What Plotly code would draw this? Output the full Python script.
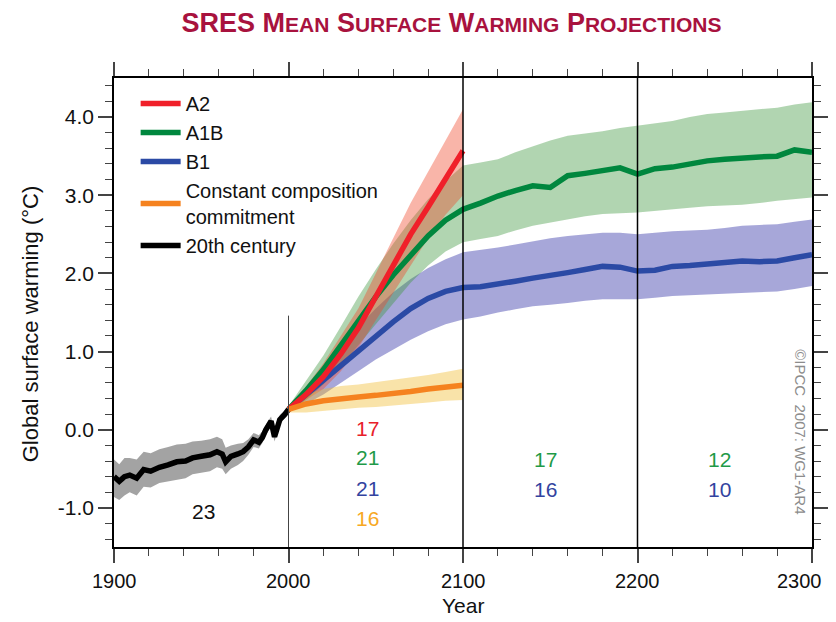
import plotly.graph_objects as go

# ---------------- data ----------------
years_20c = [1900, 1903, 1906, 1909, 1913, 1917, 1921, 1926, 1931, 1936, 1941, 1945, 1950, 1955, 1959,
             1962, 1964, 1967, 1971, 1974, 1977, 1980, 1983, 1985, 1987, 1990, 1992, 1995, 1998, 2000]
temp_20c = [-0.60, -0.66, -0.60, -0.58, -0.62, -0.51, -0.53, -0.48, -0.45, -0.41, -0.40, -0.36, -0.34, -0.32, -0.28,
            -0.31, -0.41, -0.34, -0.31, -0.28, -0.22, -0.13, -0.16, -0.10, 0.00, 0.11, -0.09, 0.13, 0.20, 0.26]
upper_20c = [-0.38, -0.44, -0.36, -0.36, -0.38, -0.28, -0.30, -0.25, -0.22, -0.19, -0.18, -0.15, -0.14, -0.12, -0.09,
             -0.12, -0.23, -0.20, -0.18, -0.17, -0.12, -0.04, -0.07, -0.02, 0.06, 0.17, -0.02, 0.19, 0.25, 0.30]
lower_20c = [-0.86, -0.90, -0.84, -0.80, -0.84, -0.73, -0.74, -0.68, -0.66, -0.64, -0.62, -0.57, -0.55, -0.53, -0.48,
             -0.50, -0.57, -0.50, -0.45, -0.40, -0.32, -0.22, -0.24, -0.17, -0.07, 0.04, -0.15, 0.07, 0.15, 0.22]

years_21c = [2000, 2010, 2020, 2030, 2040, 2050, 2060, 2070, 2080, 2090, 2100]
a2 = [0.26, 0.45, 0.68, 0.97, 1.30, 1.70, 2.10, 2.50, 2.85, 3.20, 3.57]
a2_upper = [0.30, 0.55, 0.85, 1.20, 1.55, 2.00, 2.45, 2.90, 3.30, 3.70, 4.10]
a2_lower = [0.22, 0.38, 0.52, 0.75, 1.05, 1.40, 1.75, 2.10, 2.45, 2.75, 3.00]
commit = [0.26, 0.33, 0.37, 0.40, 0.42, 0.44, 0.46, 0.49, 0.52, 0.55, 0.57]
commit_upper = [0.30, 0.45, 0.52, 0.56, 0.58, 0.61, 0.64, 0.67, 0.70, 0.74, 0.78]
commit_lower = [0.22, 0.22, 0.24, 0.26, 0.28, 0.29, 0.31, 0.33, 0.35, 0.37, 0.38]

years_long = [2000, 2010, 2020, 2030, 2040, 2050, 2060, 2070, 2080, 2090, 2100,
              2110, 2120, 2130, 2140, 2150, 2160, 2170, 2180, 2190, 2200,
              2210, 2220, 2230, 2240, 2250, 2260, 2270, 2280, 2290, 2300]
a1b = [0.26, 0.50, 0.77, 1.08, 1.40, 1.70, 1.98, 2.24, 2.48, 2.68, 2.82,
       2.90, 2.99, 3.06, 3.12, 3.10, 3.25, 3.28, 3.31, 3.35, 3.27,
       3.34, 3.36, 3.40, 3.44, 3.46, 3.48, 3.49, 3.50, 3.58, 3.55]
a1b_upper = [0.30, 0.62, 0.95, 1.32, 1.70, 2.05, 2.38, 2.68, 2.95, 3.18, 3.38,
             3.42, 3.46, 3.55, 3.63, 3.70, 3.76, 3.79, 3.82, 3.86, 3.89,
             3.92, 3.95, 4.00, 4.04, 4.06, 4.08, 4.10, 4.12, 4.16, 4.19]
a1b_lower = [0.22, 0.38, 0.58, 0.82, 1.08, 1.35, 1.62, 1.88, 2.10, 2.28, 2.40,
             2.44, 2.48, 2.55, 2.61, 2.65, 2.69, 2.73, 2.76, 2.77, 2.78,
             2.80, 2.82, 2.84, 2.86, 2.87, 2.88, 2.90, 2.93, 2.95, 2.97]
b1 = [0.26, 0.45, 0.62, 0.83, 1.02, 1.20, 1.38, 1.55, 1.68, 1.77, 1.82,
      1.83, 1.86, 1.90, 1.94, 1.97, 2.01, 2.05, 2.09, 2.08, 2.03,
      2.04, 2.09, 2.10, 2.12, 2.14, 2.16, 2.15, 2.16, 2.20, 2.24]
b1_upper = [0.30, 0.55, 0.80, 1.08, 1.32, 1.55, 1.76, 1.93, 2.07, 2.18, 2.27,
            2.30, 2.33, 2.37, 2.41, 2.45, 2.48, 2.50, 2.52, 2.52, 2.50,
            2.52, 2.54, 2.55, 2.56, 2.58, 2.61, 2.62, 2.63, 2.66, 2.69]
b1_lower = [0.22, 0.33, 0.45, 0.60, 0.75, 0.90, 1.03, 1.15, 1.26, 1.35, 1.41,
            1.45, 1.50, 1.54, 1.58, 1.60, 1.62, 1.65, 1.67, 1.67, 1.67,
            1.69, 1.71, 1.72, 1.73, 1.74, 1.75, 1.76, 1.77, 1.80, 1.84]

# number of models per period
count_labels = ["23", "17", "21", "21", "16", "17", "16", "12", "10"]
count_years = [1951, 2045, 2045, 2045, 2045, 2147, 2147, 2247, 2247]
count_values = [-1.05, 0.01, -0.36, -0.75, -1.13, -0.38, -0.77, -0.38, -0.77]
count_colors = ["#111111", "#e8202a", "#1f9a48", "#3243a0", "#f7a823", "#1f9a48", "#3243a0", "#1f9a48", "#3243a0"]

divider_years = [2100, 2200]
start_year = 2000
start_line_top = 1.46

x_ticks = [1900, 2000, 2100, 2200, 2300]
x_tick_labels = ["1900", "2000", "2100", "2200", "2300"]
y_ticks = [-1, 0, 1, 2, 3, 4]
y_tick_labels = ["-1.0", "0.0", "1.0", "2.0", "3.0", "4.0"]

FONT = "Liberation Sans, Arial, Helvetica, sans-serif"

fig = go.Figure()


def band(xs, up, lo, color):
    fig.add_trace(go.Scatter(x=list(xs) + list(xs)[::-1], y=list(up) + list(lo)[::-1],
                             fill="toself", fillcolor=color, line=dict(width=0),
                             mode="lines", hoverinfo="skip", showlegend=False))


band(years_20c, upper_20c, lower_20c, "rgba(0,0,0,0.36)")
band(years_long, b1_upper, b1_lower, "rgba(60,60,170,0.45)")
band(years_long, a1b_upper, a1b_lower, "rgba(60,150,60,0.40)")
band(years_21c, a2_upper, a2_lower, "rgba(240,70,40,0.40)")
band(years_21c, commit_upper, commit_lower, "rgba(240,185,40,0.40)")

LW = 5.5
fig.add_trace(go.Scatter(x=years_20c, y=temp_20c, mode="lines", name="20th century",
                         line=dict(color="#000000", width=LW), legendrank=5))
fig.add_trace(go.Scatter(x=years_long, y=b1, mode="lines", name="B1",
                         line=dict(color="#2b4aa5", width=LW), legendrank=3))
fig.add_trace(go.Scatter(x=years_long, y=a1b, mode="lines", name="A1B",
                         line=dict(color="#00873e", width=LW), legendrank=2))
fig.add_trace(go.Scatter(x=years_21c, y=a2, mode="lines", name="A2",
                         line=dict(color="#f0202a", width=LW), legendrank=1))
fig.add_trace(go.Scatter(x=years_21c, y=commit, mode="lines", name="Constant composition<br>commitment",
                         line=dict(color="#f5821f", width=LW), legendrank=4))

for lab, xx, yy, cc in zip(count_labels, count_years, count_values, count_colors):
    fig.add_annotation(x=xx, y=yy, text=lab, showarrow=False,
                       font=dict(size=21, color=cc, family=FONT))

for yr in divider_years:
    fig.add_shape(type="line", x0=yr, x1=yr, xref="x", y0=0, y1=1, yref="paper",
                  line=dict(color="#000000", width=1.5))
fig.add_shape(type="line", x0=start_year, x1=start_year, xref="x", y0=-1.5, y1=start_line_top, yref="y",
              line=dict(color="#444444", width=1))

fig.add_annotation(x=0.984, y=0.245, xref="paper", yref="paper", text="©IPCC  2007: WG1-AR4",
                   xanchor="center", yanchor="middle",
                   textangle=90, showarrow=False, font=dict(size=15, color="#8c8c8c", family=FONT))

# x tick labels as text placed at the axis' own tick positions (last one kept inside the page)
for i, (tv, tl) in enumerate(zip(x_ticks, x_tick_labels)):
    last = i == len(x_ticks) - 1
    fig.add_annotation(x=tv, y=-0.0725, xref="x", yref="paper", text=tl, showarrow=False,
                       xanchor="right" if last else "center", xshift=12 if last else 0,
                       yanchor="middle", font=dict(size=20, color="#111111", family=FONT))

# axis titles
fig.add_annotation(x=-0.1203, y=0.475, xref="paper", yref="paper", text="Global surface warming (°C)",
                   xanchor="center", yanchor="middle", textangle=-90, showarrow=False,
                   font=dict(size=22, color="#111111", family=FONT))
fig.add_annotation(x=0.5, y=-0.1237, xref="paper", yref="paper", text="Year",
                   xanchor="center", yanchor="middle", showarrow=False,
                   font=dict(size=21, color="#111111", family=FONT))

big = 27
small = 21
def sc(first, rest):
    return f"{first}<span style='font-size:{small}px'>{rest}</span>"

title_text = "SRES " + sc("M", "EAN") + " " + sc("S", "URFACE") + " " + sc("W", "ARMING") + " " + sc("P", "ROJECTIONS")

# the page body adds an 8 px offset, so the figure is 8 px smaller than the window
fig.update_layout(
    width=828, height=614,
    margin=dict(l=106, r=24, t=70, b=75, autoexpand=False),
    paper_bgcolor="white", plot_bgcolor="white",
    font=dict(family=FONT, color="#111111", size=20),
    title=dict(text=f"<b>{title_text}</b>", x=0.5356, xref="container", xanchor="center",
               y=0.977, yref="container", yanchor="middle",
               font=dict(size=big, color="#a8123e", family=FONT)),
    legend=dict(x=0.031, y=0.987, xanchor="left", yanchor="top", bgcolor="rgba(0,0,0,0)",
                font=dict(size=20, family=FONT), tracegroupgap=0, itemwidth=40),
    showlegend=True,
)

fig.update_xaxes(range=[1900, 2300], tickvals=x_ticks, ticks="outside", ticklen=14, tickwidth=1.5,
                 showline=True, linecolor="black", linewidth=1.5, mirror="ticks", showgrid=False,
                 zeroline=False, showticklabels=False, automargin=False,
                 minor=dict(dtick=20, tick0=1900, ticks="outside", ticklen=7, tickwidth=1, showgrid=False))
fig.update_yaxes(range=[-1.5, 4.5], tickvals=y_ticks, ticktext=y_tick_labels, ticks="outside", ticklen=14,
                 tickwidth=1.5, showline=True, linecolor="black", linewidth=1.5, mirror="ticks",
                 showgrid=False, zeroline=False, tickfont=dict(size=21), automargin=False,
                 minor=dict(dtick=0.2, tick0=0, ticks="outside", ticklen=7, tickwidth=1, showgrid=False))

fig.write_html("out.html")
